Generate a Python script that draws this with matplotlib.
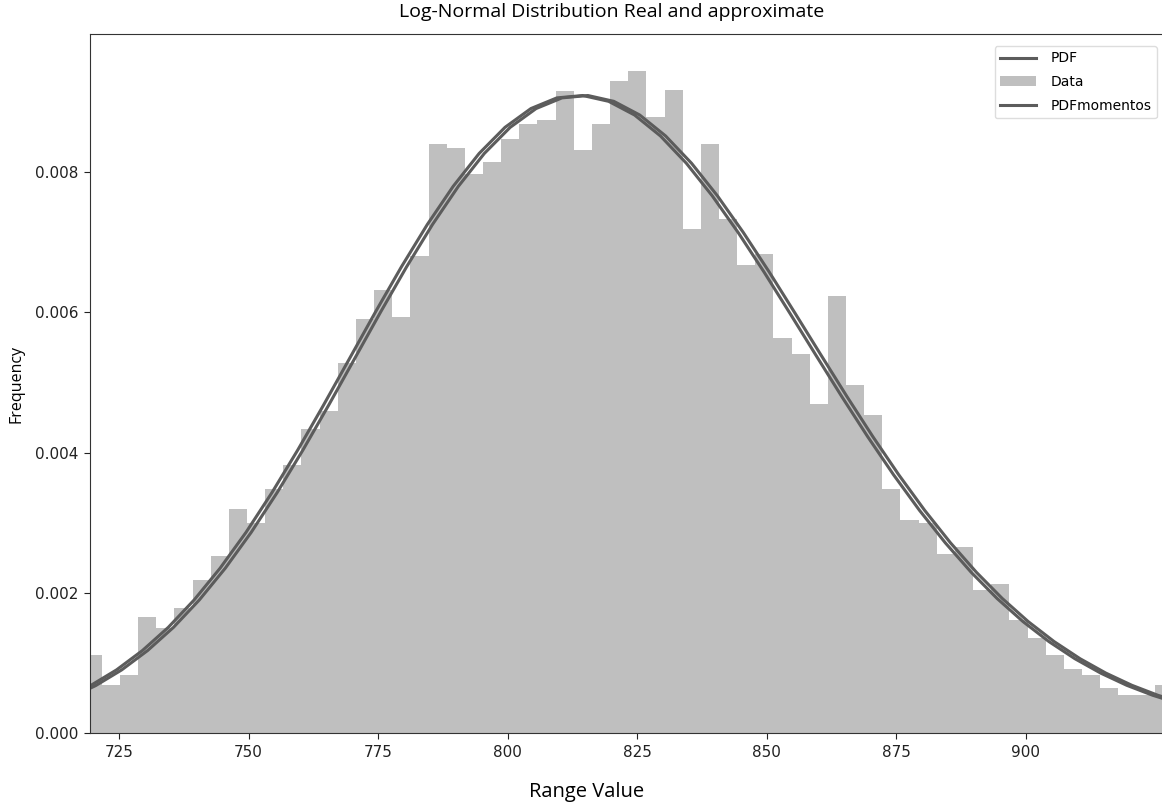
import matplotlib.pyplot as plt
import numpy as np

plt.rcParams['font.family'] = ['DejaVu Sans']

# histogram (density), 60 bins of width ~3.5
bin_start = 718.16
bin_width = 3.504
data_heights = [
    0.00112, 0.00069, 0.00083, 0.00165, 0.00150, 0.00178, 0.00218, 0.00252,
    0.00320, 0.00299, 0.00348, 0.00382, 0.00433, 0.00459, 0.00528, 0.00590,
    0.00632, 0.00593, 0.00680, 0.00840, 0.00835, 0.00797, 0.00814, 0.00848,
    0.00869, 0.00874, 0.00916, 0.00831, 0.00869, 0.00930, 0.00944, 0.00879,
    0.00917, 0.00719, 0.00840, 0.00733, 0.00667, 0.00684, 0.00564, 0.00541,
    0.00469, 0.00623, 0.00497, 0.00454, 0.00348, 0.00304, 0.00299, 0.00256,
    0.00265, 0.00204, 0.00212, 0.00161, 0.00136, 0.00112, 0.00092, 0.00083,
    0.00064, 0.00054, 0.00054, 0.00069,
]

# fitted curve, sampled every 5 units from 715 to 930
curve_x = np.arange(715, 935, 5)
pdf_values = [
    0.000500, 0.000677, 0.000900, 0.001176, 0.001507, 0.001899, 0.002351,
    0.002862, 0.003428, 0.004038, 0.004682, 0.005344, 0.006007, 0.006650,
    0.007254, 0.007799, 0.008267, 0.008640, 0.008908, 0.009060, 0.009094,
    0.009011, 0.008816, 0.008517, 0.008128, 0.007663, 0.007140, 0.006576,
    0.005987, 0.005391, 0.004800, 0.004228, 0.003684, 0.003177, 0.002712,
    0.002292, 0.001918, 0.001589, 0.001304, 0.001060, 0.000854, 0.000681,
    0.000539, 0.000423,
]
pdf_shift = -0.5
momentos_shift = 0.5

x_ticks = [725, 750, 775, 800, 825, 850, 875, 900]
y_ticks = [0.000, 0.002, 0.004, 0.006, 0.008]

fig = plt.figure(figsize=(11.62, 8.08), dpi=100)
ax = fig.add_axes([0.0775, 0.0928, 0.93, 0.865])

edges = bin_start + bin_width * np.arange(len(data_heights) + 1)
line1, = ax.plot(curve_x + pdf_shift, pdf_values, color='#5c5c5c', lw=2.2, label='PDF')
bars = ax.bar(edges[:-1], data_heights, width=bin_width, align='edge',
              color='#bfbfbf', linewidth=0, label='Data', zorder=1)
line2, = ax.plot(curve_x + momentos_shift, pdf_values, color='#5c5c5c', lw=2.2,
                 label='PDFmomentos')

ax.set_xlim(719.4, 928.0)
ax.set_ylim(0, 0.00997)
ax.set_xticks(x_ticks)
ax.set_yticks(y_ticks)
ax.set_yticklabels([f'{v:.3f}' for v in y_ticks])
ax.tick_params(labelsize=11, colors='#222222', length=4, pad=4.5)
for s in ax.spines.values():
    s.set_color('#333333')

label_font = ['Open Sans', 'DejaVu Sans']
ax.set_xlabel('Range Value', fontsize=14.5, family=label_font)
ax.xaxis.set_label_coords((587 - 90) / (0.93 * 1162), -0.07)
ax.set_ylabel('Frequency', fontsize=11.5, family=label_font)
ax.yaxis.set_label_coords(-0.061, 0.5)
fig.text(612 / 1162, 1 - 12 / 808, 'Log-Normal Distribution Real and approximate',
         ha='center', va='center', fontsize=14, family=label_font)

ax.legend(handles=[line1, bars, line2], loc='upper right', fontsize=10,
          bbox_to_anchor=(0.9935, 0.993), framealpha=1, edgecolor='#dddddd',
          labelspacing=0.7, handlelength=2.6, handletextpad=1.0)

fig.savefig('out.png', dpi=100)
